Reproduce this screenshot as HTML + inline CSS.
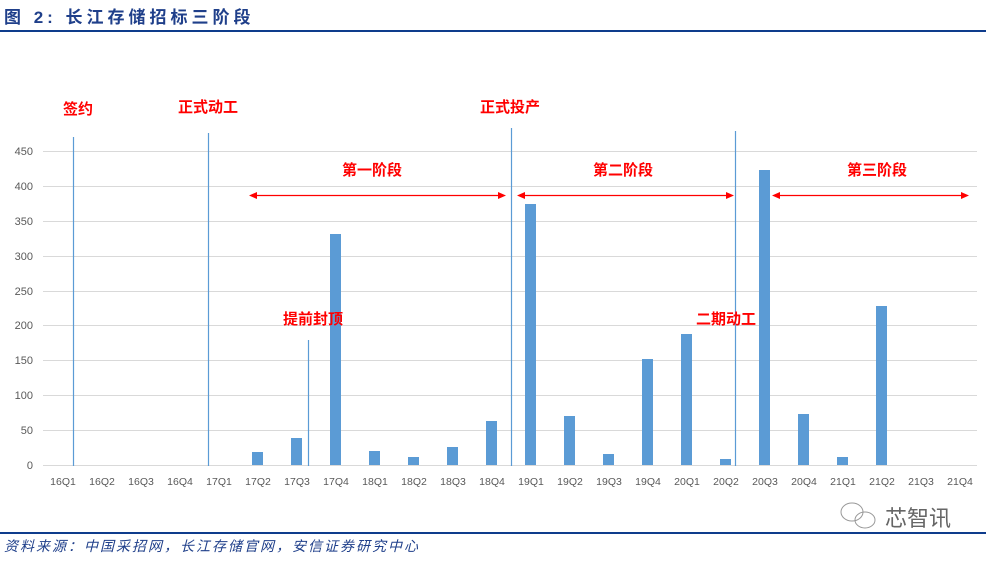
<!DOCTYPE html><html><head><meta charset="utf-8"><style>
body{margin:0;width:986px;height:559px;background:#fff;overflow:hidden;font-family:"Liberation Sans","Noto Sans CJK SC",sans-serif}
</style></head><body>
<svg width="986" height="559" xmlns="http://www.w3.org/2000/svg" font-family="Liberation Sans, Noto Sans CJK SC, sans-serif">
<text x="4" y="23" font-size="17" font-weight="bold" fill="#1f3f8a" letter-spacing="4">图 2:  长江存储招标三阶段</text>
<rect x="0" y="30" width="986" height="2" fill="#0e3c8c"/>
<g stroke="#d9d9d9" stroke-width="1">
<line x1="43" x2="977" y1="151.5" y2="151.5"/><line x1="43" x2="977" y1="186.5" y2="186.5"/><line x1="43" x2="977" y1="221.5" y2="221.5"/><line x1="43" x2="977" y1="256.5" y2="256.5"/><line x1="43" x2="977" y1="291.5" y2="291.5"/><line x1="43" x2="977" y1="325.5" y2="325.5"/><line x1="43" x2="977" y1="360.5" y2="360.5"/><line x1="43" x2="977" y1="395.5" y2="395.5"/><line x1="43" x2="977" y1="430.5" y2="430.5"/><line x1="43" x2="977" y1="465.5" y2="465.5"/>
</g>
<g font-size="11" fill="#595959" text-anchor="end">
<text x="33" y="155">450</text><text x="33" y="190">400</text><text x="33" y="225">350</text><text x="33" y="260">300</text><text x="33" y="295">250</text><text x="33" y="329">200</text><text x="33" y="364">150</text><text x="33" y="399">100</text><text x="33" y="434">50</text><text x="33" y="469">0</text>
</g>
<g fill="#5b9bd5">
<rect x="252" y="452" width="11" height="13"/>
<rect x="291" y="438" width="11" height="27"/>
<rect x="330" y="234" width="11" height="231"/>
<rect x="369" y="451" width="11" height="14"/>
<rect x="408" y="457" width="11" height="8"/>
<rect x="447" y="447" width="11" height="18"/>
<rect x="486" y="421" width="11" height="44"/>
<rect x="525" y="204" width="11" height="261"/>
<rect x="564" y="416" width="11" height="49"/>
<rect x="603" y="454" width="11" height="11"/>
<rect x="642" y="359" width="11" height="106"/>
<rect x="681" y="334" width="11" height="131"/>
<rect x="720" y="459" width="11" height="6"/>
<rect x="759" y="170" width="11" height="295"/>
<rect x="798" y="414" width="11" height="51"/>
<rect x="837" y="457" width="11" height="8"/>
<rect x="876" y="306" width="11" height="159"/>
</g>
<g stroke="#5b9bd5" stroke-width="1.2">
<line x1="73.5" x2="73.5" y1="137" y2="466"/>
<line x1="208.5" x2="208.5" y1="133" y2="466"/>
<line x1="308.5" x2="308.5" y1="340" y2="466"/>
<line x1="511.5" x2="511.5" y1="128" y2="466"/>
<line x1="735.5" x2="735.5" y1="131" y2="466"/>
</g>
<g font-size="10.5" fill="#595959" text-anchor="middle">
<text x="63" y="485">16Q1</text><text x="102" y="485">16Q2</text><text x="141" y="485">16Q3</text><text x="180" y="485">16Q4</text><text x="219" y="485">17Q1</text><text x="258" y="485">17Q2</text><text x="297" y="485">17Q3</text><text x="336" y="485">17Q4</text><text x="375" y="485">18Q1</text><text x="414" y="485">18Q2</text><text x="453" y="485">18Q3</text><text x="492" y="485">18Q4</text><text x="531" y="485">19Q1</text><text x="570" y="485">19Q2</text><text x="609" y="485">19Q3</text><text x="648" y="485">19Q4</text><text x="687" y="485">20Q1</text><text x="726" y="485">20Q2</text><text x="765" y="485">20Q3</text><text x="804" y="485">20Q4</text><text x="843" y="485">21Q1</text><text x="882" y="485">21Q2</text><text x="921" y="485">21Q3</text><text x="960" y="485">21Q4</text>
</g>
<g font-size="15" font-weight="bold" fill="#ff0000" text-anchor="middle">
<text x="78" y="114">签约</text><text x="208" y="112">正式动工</text><text x="510" y="112">正式投产</text>
<text x="313" y="324">提前封顶</text><text x="726" y="324">二期动工</text>
<text x="372" y="175">第一阶段</text><text x="623" y="175">第二阶段</text><text x="877" y="175">第三阶段</text>
</g>
<g stroke="#ff0000" stroke-width="1.2" fill="#ff0000">
<line x1="254" y1="195.5" x2="501" y2="195.5"/><polygon points="249,195.5 257,192 257,199" stroke="none"/><polygon points="506,195.5 498,192 498,199" stroke="none"/>
<line x1="522" y1="195.5" x2="729" y2="195.5"/><polygon points="517,195.5 525,192 525,199" stroke="none"/><polygon points="734,195.5 726,192 726,199" stroke="none"/>
<line x1="777" y1="195.5" x2="964" y2="195.5"/><polygon points="772,195.5 780,192 780,199" stroke="none"/><polygon points="969,195.5 961,192 961,199" stroke="none"/>
</g>
<g fill="none" stroke="#999" stroke-width="1"><ellipse cx="852" cy="512" rx="11" ry="9"/><ellipse cx="865" cy="520" rx="10" ry="8"/></g>
<text x="885" y="526" font-size="22" fill="#666">芯智讯</text>
<rect x="0" y="532" width="986" height="2" fill="#0e3c8c"/>
<text x="4" y="551" font-size="14" font-style="italic" fill="#1f3f8a" letter-spacing="2">资料来源：中国采招网，长江存储官网，安信证券研究中心</text>
</svg></body></html>
